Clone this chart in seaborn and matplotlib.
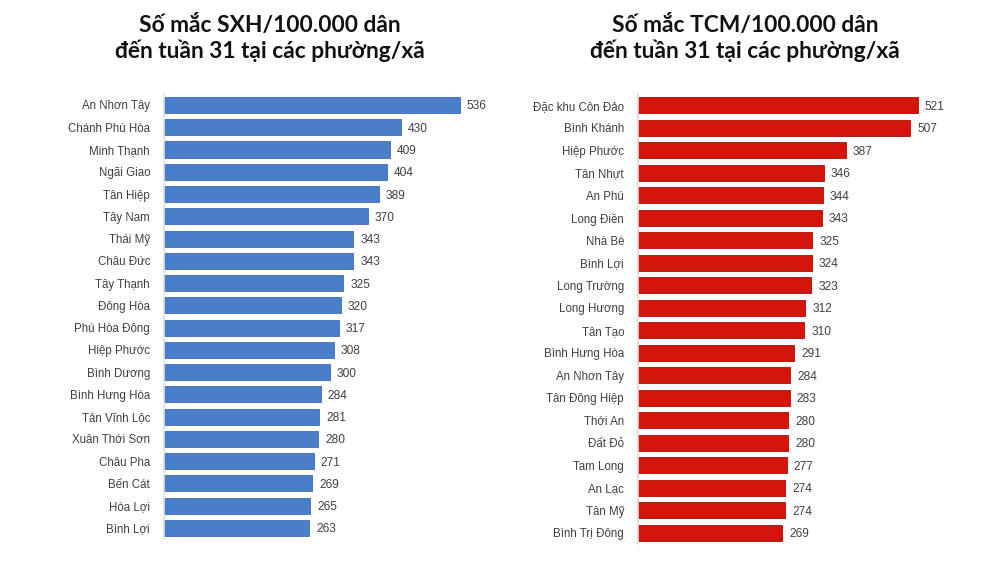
import matplotlib
matplotlib.use("Agg")
import matplotlib.pyplot as plt
import seaborn as sns
import pandas as pd

sxh_names = ["An Nhơn Tây", "Chánh Phú Hòa", "Minh Thạnh", "Ngãi Giao", "Tân Hiệp",
             "Tây Nam", "Thái Mỹ", "Châu Đức", "Tây Thạnh", "Đông Hòa",
             "Phú Hòa Đông", "Hiệp Phước", "Bình Dương", "Bình Hưng Hòa", "Tân Vĩnh Lộc",
             "Xuân Thới Sơn", "Châu Pha", "Bến Cát", "Hòa Lợi", "Bình Lợi"]
sxh_values = [536, 430, 409, 404, 389, 370, 343, 343, 325, 320,
              317, 308, 300, 284, 281, 280, 271, 269, 265, 263]

tcm_names = ["Đặc khu Côn Đảo", "Bình Khánh", "Hiệp Phước", "Tân Nhựt", "An Phú",
             "Long Điền", "Nhà Bè", "Bình Lợi", "Long Trường", "Long Hương",
             "Tân Tạo", "Bình Hưng Hòa", "An Nhơn Tây", "Tân Đông Hiệp", "Thới An",
             "Đất Đỏ", "Tam Long", "An Lạc", "Tân Mỹ", "Bình Trị Đông"]
tcm_values = [521, 507, 387, 346, 344, 343, 325, 324, 323, 312,
              310, 291, 284, 283, 280, 280, 277, 274, 274, 269]

titles = ["Số mắc SXH/100.000 dân\nđến tuần 31 tại các phường/xã",
          "Số mắc TCM/100.000 dân\nđến tuần 31 tại các phường/xã"]

sns.set_theme(style="white")
plt.rcParams['font.family'] = ['Liberation Sans', 'DejaVu Sans']

fig = plt.figure(figsize=(10, 5.62), dpi=100)
fig.patch.set_facecolor("white")

ax1 = fig.add_axes([0.164, 0.041, 0.331, 0.792])
ax2 = fig.add_axes([0.638, 0.032, 0.322, 0.801])

panels = [
    (ax1, sxh_names, sxh_values, "#4A7EC8", "#3F6DB0", "#D6E2F0"),
    (ax2, tcm_names, tcm_values, "#D3150B", "#A80F08", "#F4D6D4"),
]

for ax, names, vals, col, edge, axcol in panels:
    df = pd.DataFrame({"name": names, "value": vals})
    sns.barplot(data=df, x="value", y="name", ax=ax, color=col, width=0.72,
                saturation=1, edgecolor=edge, linewidth=0.6)
    ax.set_xlim(0, 600)
    ax.set_ylim(19.5, -0.5)
    ax.set_xlabel("")
    ax.set_ylabel("")
    ax.set_xticks([])
    for s in ["top", "right", "bottom"]:
        ax.spines[s].set_visible(False)
    ax.spines["left"].set_color(axcol)
    ax.spines["left"].set_linewidth(1.2)
    ax.tick_params(axis="y", length=0, pad=10, labelsize=8.3, labelcolor="#404040")
    for cont in ax.containers:
        labels = ax.bar_label(cont, fmt="%d", padding=5, fontsize=8.6, color="#404040")
        for t in labels:
            t.set_va("center_baseline")

for x, t in zip([0.27, 0.745], titles):
    fig.text(x, 0.932, t, ha="center", va="center", fontsize=16.4,
             fontweight="bold", family=["Lato", "DejaVu Sans"], color="#111111",
             linespacing=1.2)

fig.savefig("out.png", dpi=100, facecolor="white")
